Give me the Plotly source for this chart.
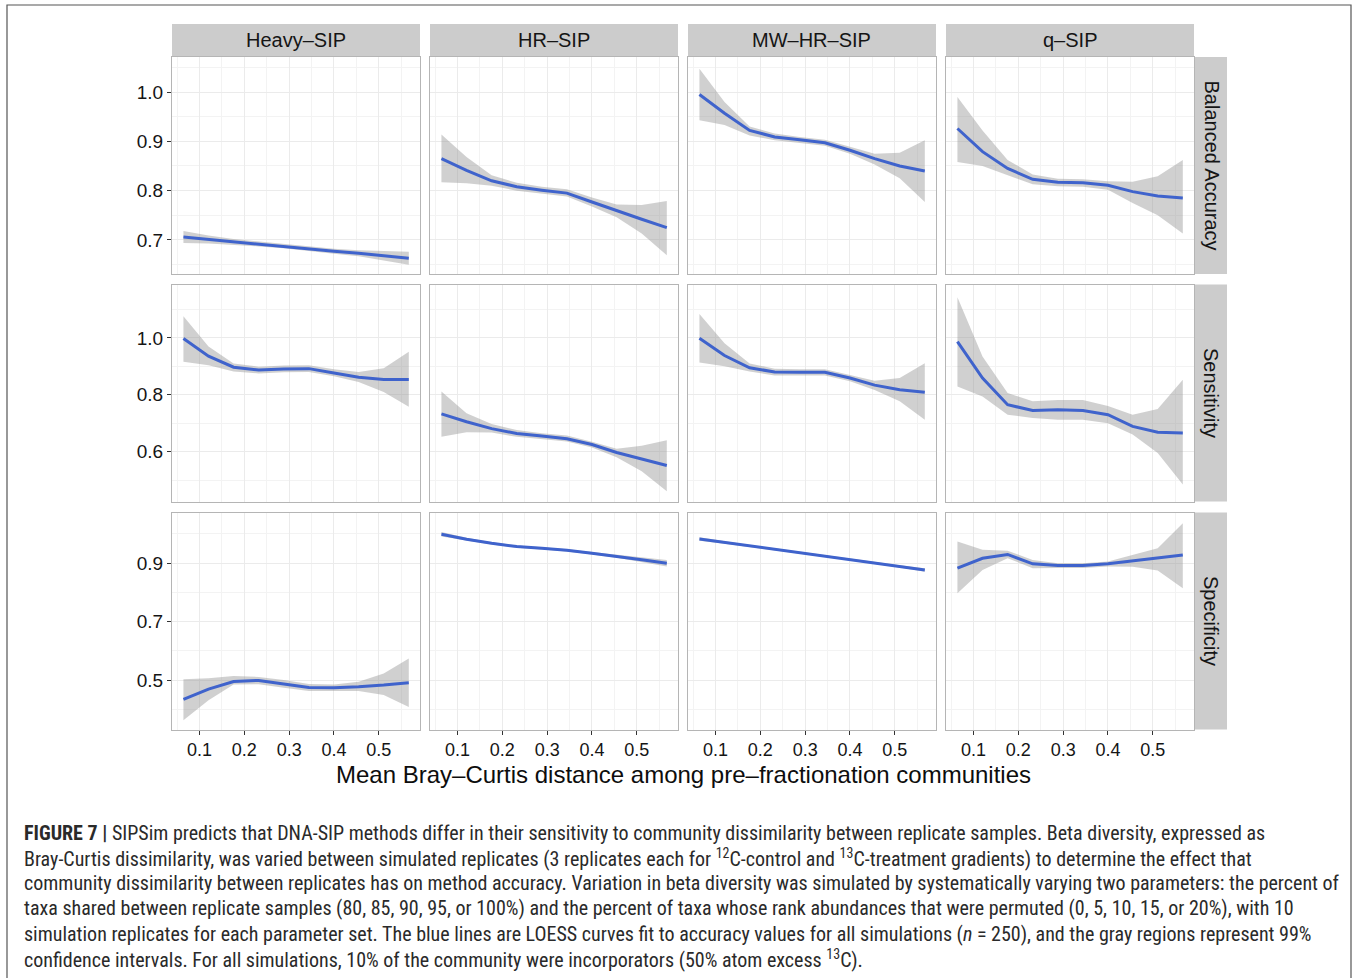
import plotly.graph_objects as go

W, H = 1357, 978

methods = ["Heavy–SIP", "HR–SIP", "MW–HR–SIP", "q–SIP"]
metrics = ["Balanced Accuracy", "Sensitivity", "Specificity"]

# mean Bray-Curtis distance (x) at which the LOESS fits were read
bray_curtis = [0.064, 0.12, 0.176, 0.232, 0.288, 0.344, 0.40, 0.455, 0.511, 0.567]

# ---- Balanced Accuracy ----
heavy_ba_fit = [0.706, 0.701, 0.696, 0.692, 0.687, 0.682, 0.677, 0.673, 0.668, 0.663]
heavy_ba_hi = [0.718, 0.709, 0.702, 0.697, 0.691, 0.686, 0.682, 0.679, 0.677, 0.676]
heavy_ba_lo = [0.694, 0.693, 0.690, 0.687, 0.683, 0.678, 0.672, 0.667, 0.659, 0.650]

hr_ba_fit = [0.865, 0.841, 0.820, 0.808, 0.801, 0.795, 0.777, 0.759, 0.742, 0.725]
hr_ba_hi = [0.914, 0.868, 0.831, 0.816, 0.808, 0.803, 0.786, 0.772, 0.771, 0.779]
hr_ba_lo = [0.817, 0.815, 0.810, 0.800, 0.794, 0.788, 0.768, 0.746, 0.713, 0.669]

mw_ba_fit = [0.995, 0.957, 0.922, 0.909, 0.903, 0.897, 0.882, 0.865, 0.850, 0.840]
mw_ba_hi = [1.047, 0.980, 0.930, 0.916, 0.909, 0.903, 0.889, 0.875, 0.877, 0.902]
mw_ba_lo = [0.943, 0.933, 0.912, 0.902, 0.897, 0.891, 0.875, 0.853, 0.825, 0.777]

q_ba_fit = [0.926, 0.879, 0.845, 0.823, 0.817, 0.816, 0.811, 0.798, 0.789, 0.785]
q_ba_hi = [0.990, 0.922, 0.862, 0.833, 0.824, 0.823, 0.819, 0.818, 0.829, 0.862]
q_ba_lo = [0.858, 0.850, 0.831, 0.813, 0.809, 0.808, 0.802, 0.775, 0.750, 0.713]

# ---- Sensitivity ----
heavy_se_fit = [0.998, 0.936, 0.897, 0.887, 0.891, 0.892, 0.877, 0.862, 0.854, 0.854]
heavy_se_hi = [1.076, 0.970, 0.910, 0.899, 0.903, 0.904, 0.890, 0.880, 0.893, 0.951]
heavy_se_lo = [0.916, 0.904, 0.882, 0.875, 0.879, 0.880, 0.865, 0.845, 0.810, 0.758]

hr_se_fit = [0.733, 0.705, 0.681, 0.664, 0.655, 0.645, 0.625, 0.597, 0.574, 0.551]
hr_se_hi = [0.812, 0.735, 0.697, 0.676, 0.665, 0.657, 0.635, 0.610, 0.621, 0.640]
hr_se_lo = [0.652, 0.668, 0.667, 0.652, 0.645, 0.636, 0.615, 0.580, 0.531, 0.461]

mw_se_fit = [0.999, 0.938, 0.895, 0.880, 0.879, 0.879, 0.859, 0.834, 0.818, 0.809]
mw_se_hi = [1.084, 0.981, 0.910, 0.892, 0.890, 0.890, 0.870, 0.849, 0.859, 0.911]
mw_se_lo = [0.914, 0.900, 0.882, 0.868, 0.868, 0.868, 0.848, 0.817, 0.777, 0.712]

q_se_fit = [0.987, 0.859, 0.765, 0.745, 0.747, 0.745, 0.730, 0.689, 0.668, 0.666]
q_se_hi = [1.143, 0.935, 0.806, 0.777, 0.782, 0.782, 0.761, 0.730, 0.750, 0.853]
q_se_lo = [0.829, 0.794, 0.730, 0.718, 0.712, 0.712, 0.700, 0.660, 0.595, 0.484]

# ---- Specificity ----
heavy_sp_fit = [0.434, 0.469, 0.495, 0.499, 0.487, 0.475, 0.474, 0.477, 0.483, 0.491]
heavy_sp_hi = [0.503, 0.506, 0.514, 0.511, 0.500, 0.487, 0.485, 0.494, 0.523, 0.574]
heavy_sp_lo = [0.363, 0.431, 0.485, 0.486, 0.474, 0.463, 0.463, 0.463, 0.449, 0.408]

hr_sp_fit = [0.999, 0.982, 0.968, 0.957, 0.951, 0.944, 0.934, 0.924, 0.912, 0.900]
hr_sp_hi = [1.007, 0.987, 0.972, 0.961, 0.955, 0.948, 0.938, 0.929, 0.919, 0.911]
hr_sp_lo = [0.991, 0.977, 0.964, 0.953, 0.947, 0.940, 0.930, 0.919, 0.905, 0.889]

mw_sp_fit = [0.983, 0.971, 0.959, 0.948, 0.936, 0.924, 0.912, 0.901, 0.889, 0.877]
mw_sp_hi = [0.989, 0.975, 0.962, 0.951, 0.939, 0.927, 0.915, 0.904, 0.893, 0.883]
mw_sp_lo = [0.977, 0.967, 0.956, 0.945, 0.933, 0.921, 0.909, 0.898, 0.885, 0.871]

q_sp_fit = [0.883, 0.917, 0.930, 0.898, 0.892, 0.892, 0.898, 0.908, 0.918, 0.928]
q_sp_hi = [0.974, 0.946, 0.943, 0.911, 0.900, 0.900, 0.906, 0.928, 0.951, 1.037]
q_sp_lo = [0.797, 0.877, 0.917, 0.883, 0.884, 0.884, 0.889, 0.888, 0.875, 0.814]

panels = [
    [(heavy_ba_fit, heavy_ba_lo, heavy_ba_hi), (hr_ba_fit, hr_ba_lo, hr_ba_hi),
     (mw_ba_fit, mw_ba_lo, mw_ba_hi), (q_ba_fit, q_ba_lo, q_ba_hi)],
    [(heavy_se_fit, heavy_se_lo, heavy_se_hi), (hr_se_fit, hr_se_lo, hr_se_hi),
     (mw_se_fit, mw_se_lo, mw_se_hi), (q_se_fit, q_se_lo, q_se_hi)],
    [(heavy_sp_fit, heavy_sp_lo, heavy_sp_hi), (hr_sp_fit, hr_sp_lo, hr_sp_hi),
     (mw_sp_fit, mw_sp_lo, mw_sp_hi), (q_sp_fit, q_sp_lo, q_sp_hi)],
]

x_ticks = [0.1, 0.2, 0.3, 0.4, 0.5]
x_minor = [0.05, 0.15, 0.25, 0.35, 0.45, 0.55]
y_ticks = [[0.7, 0.8, 0.9, 1.0], [0.6, 0.8, 1.0], [0.5, 0.7, 0.9]]
y_minor = [[0.65, 0.75, 0.85, 0.95, 1.05], [0.5, 0.7, 0.9, 1.1], [0.4, 0.6, 0.8, 1.0]]
y_ranges = [[0.631, 1.071], [0.4246, 1.188], [0.331, 1.0735]]
x_range = [0.0385, 0.592]

# layout geometry (pixels)
col_left = [172, 430, 688, 946]
col_w = 248
row_top = [57, 284.5, 512.5]
row_h = 217

LINE = "#3F63CC"
RIBBON = "rgba(150,150,150,0.45)"
GRID = "#EBEBEB"
GRID_MINOR = "#F3F3F3"
BORDER = "#B5B5B5"
STRIP = "#CCCCCC"
FONT = "Liberation Sans, Arial, Helvetica, sans-serif"
TEXT = "#151515"

fig = go.Figure()
layout = dict(
    width=W, height=H, margin=dict(l=0, r=0, t=0, b=0),
    paper_bgcolor="white", plot_bgcolor="white", showlegend=False,
    font=dict(family=FONT, color=TEXT),
)
shapes = []
annotations = []

for r in range(3):
    for c in range(4):
        i = r * 4 + c + 1
        xa = "x" if i == 1 else f"x{i}"
        ya = "y" if i == 1 else f"y{i}"
        fit, lo, hi = panels[r][c]
        fig.add_trace(go.Scatter(
            x=bray_curtis + bray_curtis[::-1], y=hi + lo[::-1],
            fill="toself", fillcolor=RIBBON, line=dict(width=0),
            mode="lines", hoverinfo="skip", xaxis=xa, yaxis=ya))
        fig.add_trace(go.Scatter(
            x=bray_curtis, y=fit, mode="lines",
            line=dict(color=LINE, width=3), xaxis=xa, yaxis=ya))
        x0 = col_left[c] / W
        x1 = (col_left[c] + col_w) / W
        y1 = 1 - row_top[r] / H
        y0 = 1 - (row_top[r] + row_h) / H
        bottom = r == 2
        left = c == 0
        layout["xaxis" if i == 1 else f"xaxis{i}"] = dict(
            domain=[x0, x1], anchor=ya, range=x_range,
            tickvals=x_ticks, ticktext=[f"{v:.1f}" for v in x_ticks],
            showticklabels=bottom, ticks="outside" if bottom else "",
            ticklen=4, tickcolor="#333333", tickwidth=1,
            tickfont=dict(size=18, color=TEXT),
            showgrid=True, gridcolor=GRID, gridwidth=1.2,
            minor=dict(tickvals=x_minor, showgrid=True,
                       gridcolor=GRID_MINOR, gridwidth=0.8),
            showline=True, mirror=True, linecolor=BORDER, linewidth=1,
            zeroline=False, fixedrange=True)
        yt = y_ticks[r]
        layout["yaxis" if i == 1 else f"yaxis{i}"] = dict(
            domain=[y0, y1], anchor=xa, range=y_ranges[r],
            tickvals=yt, ticktext=[f"{v:.1f}" for v in yt],
            showticklabels=left, ticks="outside" if left else "",
            ticklen=4, tickcolor="#333333", tickwidth=1,
            tickfont=dict(size=19, color=TEXT),
            showgrid=True, gridcolor=GRID, gridwidth=1.2,
            minor=dict(tickvals=y_minor[r], showgrid=True,
                       gridcolor=GRID_MINOR, gridwidth=0.8),
            showline=True, mirror=True, linecolor=BORDER, linewidth=1,
            zeroline=False, fixedrange=True)

# top strips
for c, name in enumerate(methods):
    x0 = col_left[c] / W
    x1 = (col_left[c] + col_w) / W
    shapes.append(dict(type="rect", xref="paper", yref="paper",
                       x0=x0, x1=x1, y0=1 - 57 / H, y1=1 - 24 / H,
                       fillcolor=STRIP, line=dict(width=0), layer="below"))
    annotations.append(dict(text=name, xref="paper", yref="paper",
                            x=(x0 + x1) / 2, y=1 - 40.5 / H, showarrow=False,
                            xanchor="center", yanchor="middle",
                            font=dict(size=20, color=TEXT)))

# right strips
for r, name in enumerate(metrics):
    y1 = 1 - row_top[r] / H
    y0 = 1 - (row_top[r] + row_h) / H
    shapes.append(dict(type="rect", xref="paper", yref="paper",
                       x0=1195 / W, x1=1227 / W, y0=y0, y1=y1,
                       fillcolor=STRIP, line=dict(width=0), layer="below"))
    annotations.append(dict(text=name, xref="paper", yref="paper",
                            x=1211 / W, y=(y0 + y1) / 2, showarrow=False,
                            textangle=90, xanchor="center", yanchor="middle",
                            font=dict(size=20, color=TEXT)))

# x axis title
annotations.append(dict(text="Mean Bray–Curtis distance among pre–fractionation communities",
                        xref="paper", yref="paper", x=683 / W, y=1 - 774 / H,
                        showarrow=False, xanchor="center", yanchor="middle",
                        font=dict(size=24, color="#0D0D0D")))

# outer frame
shapes.append(dict(type="rect", xref="paper", yref="paper",
                   x0=7 / W, x1=1351 / W, y0=1 - 990 / H, y1=1 - 5 / H,
                   line=dict(color="#555555", width=1.2), fillcolor="rgba(0,0,0,0)"))

caption_lines = [
    "<b>FIGURE 7 |</b> SIPSim predicts that DNA-SIP methods differ in their sensitivity to community dissimilarity between replicate samples. Beta diversity, expressed as",
    "Bray-Curtis dissimilarity, was varied between simulated replicates (3 replicates each for <sup>12</sup>C-control and <sup>13</sup>C-treatment gradients) to determine the effect that",
    "community dissimilarity between replicates has on method accuracy. Variation in beta diversity was simulated by systematically varying two parameters: the percent of",
    "taxa shared between replicate samples (80, 85, 90, 95, or 100%) and the percent of taxa whose rank abundances that were permuted (0, 5, 10, 15, or 20%), with 10",
    "simulation replicates for each parameter set. The blue lines are LOESS curves fit to accuracy values for all simulations (<i>n</i> = 250), and the gray regions represent 99%",
    "confidence intervals. For all simulations, 10% of the community were incorporators (50% atom excess <sup>13</sup>C).",
]
caption_y = [833, 858, 883, 908, 934, 959]
for txt, yy in zip(caption_lines, caption_y):
    annotations.append(dict(text=txt, xref="paper", yref="paper",
                            x=22 / W, y=1 - yy / H, showarrow=False,
                            xanchor="left", yanchor="middle", align="left",
                            font=dict(size=20, color="#2A2A2A",
                                      family="Liberation Sans Narrow, Roboto Condensed, Arial Narrow, Liberation Sans, sans-serif")))

layout["shapes"] = shapes
layout["annotations"] = annotations
fig.update_layout(**layout)
fig.write_html("out.html", config={"displayModeBar": False},
               post_script="document.body.style.margin='0';document.body.style.padding='0';")
